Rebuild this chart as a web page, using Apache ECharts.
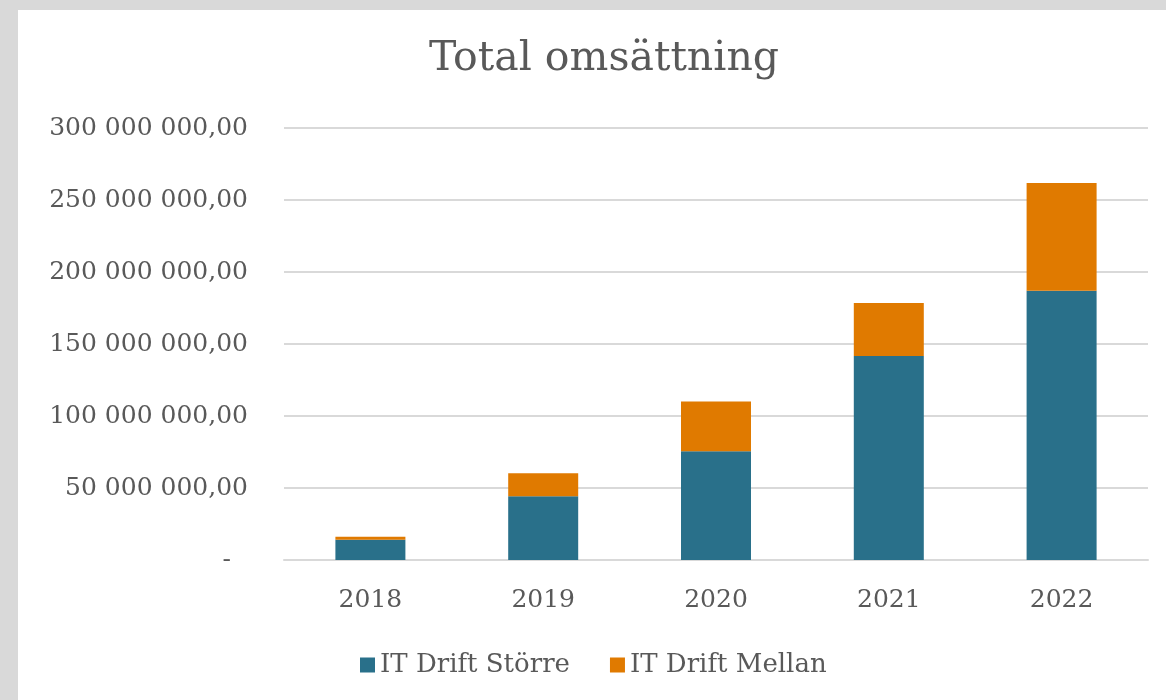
<!DOCTYPE html>
<html>
<head>
<meta charset="utf-8">
<script src="https://cdn.jsdelivr.net/npm/echarts@6/dist/echarts.min.js"></script>
<style>
  html, body { margin: 0; padding: 0; background: #d9d9d9; }
  #chart { position: absolute; left: 18px; top: 10px; width: 1148px; height: 690px; background: #ffffff; }
</style>
</head>
<body>
<div id="chart"></div>
<script>
// data
var years = ['2018', '2019', '2020', '2021', '2022'];
var storre = [14000000, 44300000, 75600000, 141600000, 187000000];
var mellan = [2100000, 16000000, 34500000, 36800000, 74800000];
var seriesNames = ['IT Drift Större', 'IT Drift Mellan'];

var font = 'DejaVu Serif';
var textColor = '#595959';

function fmt(v) {
  if (v === 0) return '{dash|-}';
  return String(v).replace(/\B(?=(\d{3})+(?!\d))/g, ' ') + ',00';
}

var myChart = echarts.init(document.getElementById('chart'));
var option = {
  backgroundColor: '#ffffff',
  title: {
    text: 'Total omsättning',
    left: 581,
    top: 24,
    textAlign: 'center',
    textStyle: { fontFamily: font, fontSize: 41, fontWeight: 'normal', color: textColor }
  },
  legend: {
    left: 337,
    top: 637,
    icon: 'rect',
    itemWidth: 15,
    itemHeight: 15,
    itemGap: 40,
    data: seriesNames,
    textStyle: { fontFamily: font, fontSize: 26, color: textColor }
  },
  grid: { left: 266, right: 18, top: 118, bottom: 140 },
  xAxis: {
    type: 'category',
    data: years,
    axisLine: { lineStyle: { color: '#d9d9d9', width: 2 } },
    axisTick: { show: false },
    axisLabel: { margin: 28, fontFamily: font, fontSize: 25, color: textColor }
  },
  yAxis: {
    type: 'value',
    min: 0,
    max: 300000000,
    interval: 50000000,
    axisLine: { show: false },
    axisTick: { show: false },
    splitLine: { lineStyle: { color: '#d9d9d9', width: 2 } },
    axisLabel: {
      margin: 36,
      fontFamily: font,
      fontSize: 25,
      color: textColor,
      formatter: fmt,
      rich: { dash: { fontFamily: font, fontSize: 25, color: textColor, padding: [0, 17, 0, 0] } }
    }
  },
  series: [
    {
      name: seriesNames[0],
      type: 'bar',
      stack: 'total',
      barWidth: 70,
      data: storre,
      itemStyle: { color: '#29708a' }
    },
    {
      name: seriesNames[1],
      type: 'bar',
      stack: 'total',
      barWidth: 70,
      data: mellan,
      itemStyle: { color: '#e07a00' }
    }
  ]
};
myChart.setOption(option, true);
</script>
</body>
</html>
